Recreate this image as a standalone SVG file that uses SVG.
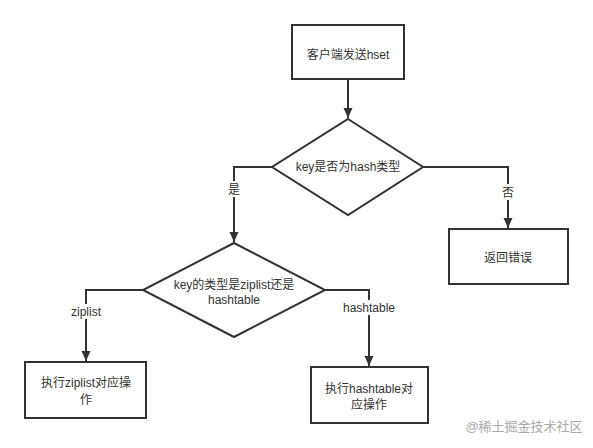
<svg xmlns="http://www.w3.org/2000/svg" width="593" height="448" viewBox="0 0 593 448">
<style>
.n{fill:#fff;stroke:#333;stroke-width:2}
.e{fill:none;stroke:#333;stroke-width:2}
text{font-family:"Liberation Sans","Noto Sans CJK SC",sans-serif;font-size:12px;fill:#333;text-anchor:middle}
.lbl{fill:#333}
.wm{fill:#aaa;font-size:13px}
</style>
<defs>
<marker id="a" viewBox="0 0 10 10" refX="10" refY="5" markerWidth="10" markerHeight="10" markerUnits="userSpaceOnUse" orient="auto">
<path d="M0,0.5 L10,5 L0,9.5 z" fill="#333"/>
</marker>
</defs>
<rect width="593" height="448" fill="#fff"/>
<g id="connectors">
<path class="e" d="M348,79 V118" marker-end="url(#a)"/>
<path class="e" d="M272,167 H234 V242" marker-end="url(#a)"/>
<path class="e" d="M423,167 H508 V228" marker-end="url(#a)"/>
<path class="e" d="M143,290 H86 V361" marker-end="url(#a)"/>
<path class="e" d="M325,290 H369 V366" marker-end="url(#a)"/>
<rect x="226" y="181" width="16" height="16" fill="#fff"/>
<text x="234" y="194">是</text>
<rect x="500" y="184" width="16" height="16" fill="#fff"/>
<text x="508" y="197">否</text>
<rect x="68" y="304" width="36" height="15" fill="#fff"/>
<text x="86" y="316">ziplist</text>
<rect x="340" y="300" width="58" height="15" fill="#fff"/>
<text x="369" y="312">hashtable</text>
</g>
<g id="start">
<rect class="n" x="292" y="25" width="112" height="54"/>
<text x="348" y="59">客户端发送hset</text>
</g>
<g id="check-hash">
<polygon class="n" points="348,119 423,167 348,215 272,167"/>
<text x="348" y="171">key是否为hash类型</text>
</g>
<g id="error">
<rect class="n" x="449" y="229" width="119" height="55"/>
<text x="508" y="262">返回错误</text>
</g>
<g id="check-encoding">
<polygon class="n" points="234,243 325,290 234,337 143,290"/>
<text x="234" y="289">key的类型是ziplist还是</text>
<text x="234" y="304">hashtable</text>
</g>
<g id="ziplist-op">
<rect class="n" x="25" y="362" width="121" height="56"/>
<text x="86" y="387">执行ziplist对应操</text>
<text x="86" y="404">作</text>
</g>
<g id="hashtable-op">
<rect class="n" x="311" y="367" width="117" height="56"/>
<text x="369" y="393">执行hashtable对</text>
<text x="369" y="409">应操作</text>
</g>
<text class="wm" x="524" y="431">@稀土掘金技术社区</text>
</svg>
